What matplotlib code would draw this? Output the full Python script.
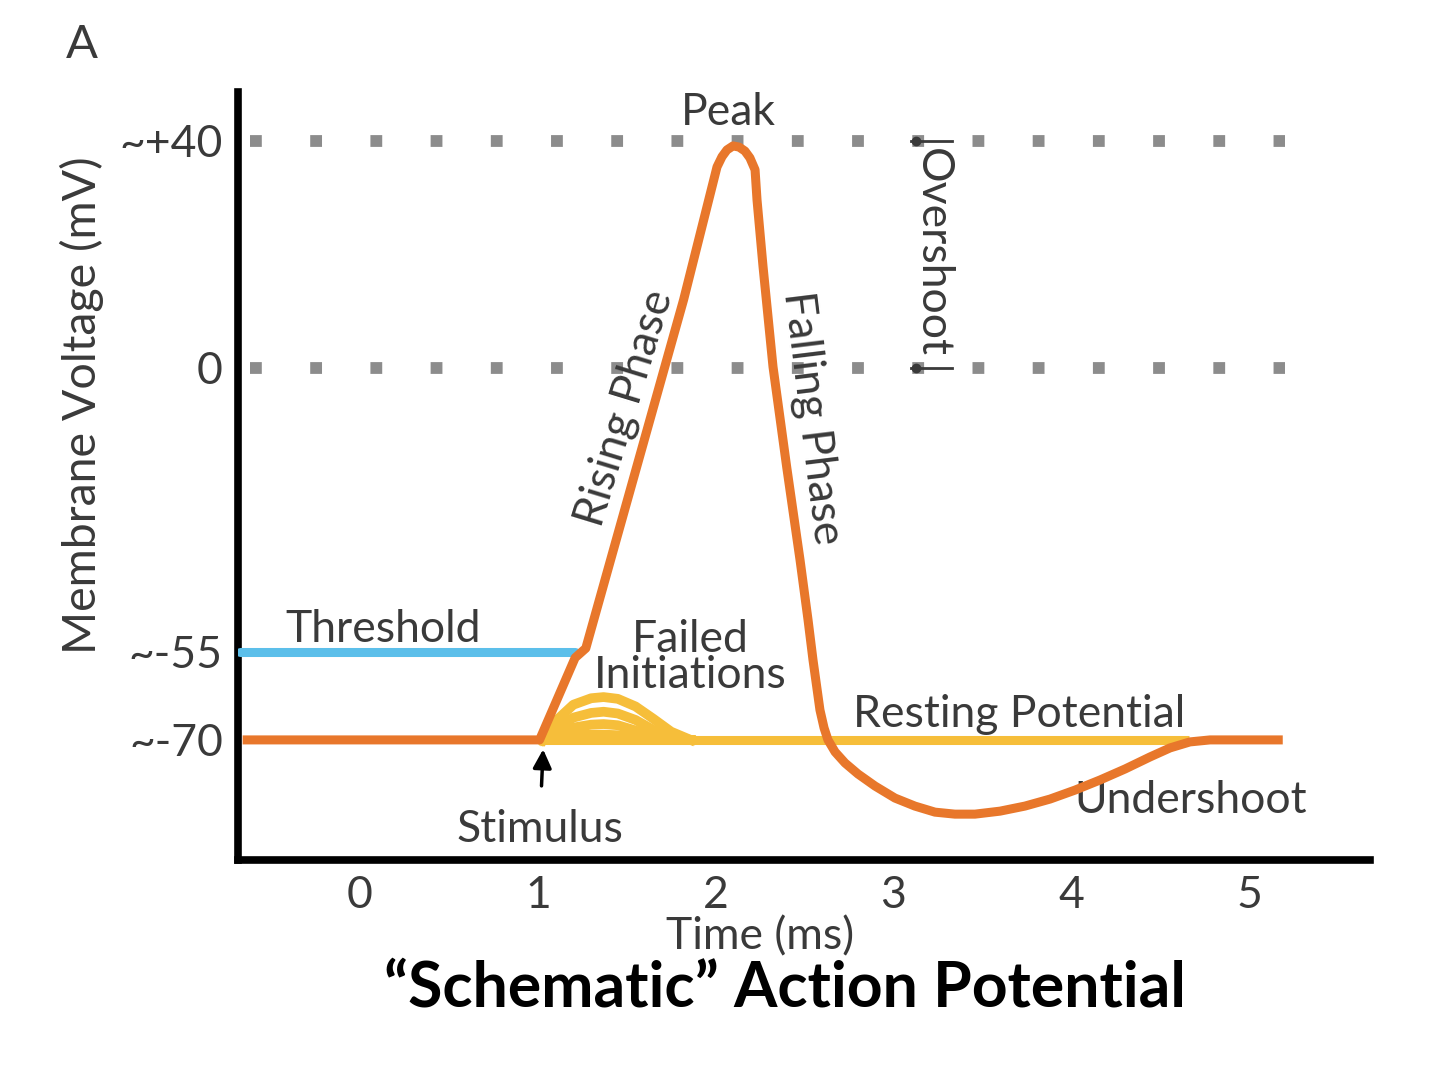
import numpy as np
import matplotlib.pyplot as plt

plt.rcParams['font.family'] = ['Lato', 'DejaVu Sans']

# 圖上的電壓軸是示意用的，刻度不是線性 -> 用 FuncScale 做分段線性
MV_KNOTS = [-100, -70, -55, 0, 60]
AXIS_KNOTS = [-96.6, -65.5, -50.0, 0, 60]


def fwd(v):
    return np.interp(v, MV_KNOTS, AXIS_KNOTS)


def inv(v):
    return np.interp(v, AXIS_KNOTS, MV_KNOTS)


# 動作電位 (ms, mV)
ap_time = [-0.66, 1.01, 1.21, 1.27, 1.82, 2.008, 2.036, 2.064, 2.098, 2.132,
           2.165, 2.193, 2.222, 2.233, 2.267, 2.323, 2.40, 2.475, 2.52, 2.548,
           2.587, 2.610, 2.632, 2.672, 2.728, 2.801, 2.897, 3.009, 3.121, 3.234,
           3.346, 3.459, 3.600, 3.740, 3.881, 4.022, 4.162, 4.303, 4.443, 4.556,
           4.668, 4.781, 5.19]
ap_mv = [-70, -70, -56.0, -54.3, 12.0, 35.4, 37.2, 38.4, 39.1, 38.9,
         38.2, 37.0, 34.9, 29.6, 17.8, 0.2, -19.2, -37.2, -48.8, -56.4,
         -64.9, -67.95, -70.0, -72.04, -73.92, -75.79, -77.84, -79.88, -81.24, -82.27,
         -82.61, -82.61, -82.10, -81.24, -80.05, -78.52, -76.81, -74.94, -72.90, -71.36,
         -70.34, -70.0, -70]

# 閾值
threshold_time = [-0.675, 1.21]
threshold_mv = [-55, -55]

# 靜止電位 (黃線)
rest_time = [1.0, 4.66]
rest_mv = [-70, -70]

# 失敗的起始 (四條小波)
bump_time = [1.03, 1.10, 1.20, 1.30, 1.37, 1.45, 1.55, 1.65, 1.75, 1.86]
bump1_mv = [-70, -66.8, -64.0, -62.9, -62.7, -63.0, -64.3, -66.4, -68.6, -70]
bump2_mv = [-70, -68.0, -66.2, -65.4, -65.2, -65.5, -66.6, -68.3, -69.6, -70]
bump3_mv = [-70, -69.0, -67.9, -67.4, -67.3, -67.5, -68.4, -69.5, -70, -70]
bump4_mv = [-70, -69.6, -69.2, -69.1, -69.1, -69.2, -69.6, -70, -70, -70]
bumps = [bump1_mv, bump2_mv, bump3_mv, bump4_mv]

# 參考虛線
ref_levels = [40, 0]
ref_span = [-0.62, 5.2]

# 刻度
x_ticks = [0, 1, 2, 3, 4, 5]
y_ticks = [-70, -55, 0, 40]
y_tick_labels = ['~-70', '~-55', '0', '~+40']

ORANGE = '#E8772B'
YELLOW = '#F6BE3A'
BLUE = '#5CBFEA'
GRAY_DOT = '#8C8C8C'
TEXT = '#3A3A3A'
FS = 32

fig = plt.figure(figsize=(14.4, 10.67), dpi=100)
ax = fig.add_axes([0.1653, 0.194, 0.786, 0.7198])
ax.set_yscale('function', functions=(fwd, inv))
ax.set_xlim(-0.686, 5.68)
ax.set_ylim(-90.4, 48.6)

# 灰色方點虛線
for lvl in ref_levels:
    ax.plot(ref_span, [lvl, lvl], color=GRAY_DOT, lw=8.5, dashes=(1, 4.1),
            dash_capstyle='butt', zorder=1)

# 黃色線
ax.plot(rest_time, rest_mv, color=YELLOW, lw=6.5, solid_capstyle='butt', zorder=2)
for b in bumps:
    ax.plot(bump_time, b, color=YELLOW, lw=7, solid_joinstyle='round', zorder=2)

# 閾值 + 動作電位
ax.plot(threshold_time, threshold_mv, color=BLUE, lw=6.5, solid_capstyle='round', zorder=3)
ax.plot(ap_time, ap_mv, color=ORANGE, lw=6.5, solid_joinstyle='round',
        solid_capstyle='butt', zorder=4)

# Overshoot 括號
for lvl in ref_levels:
    ax.plot([3.10, 3.33], [lvl, lvl], color=TEXT, lw=2, zorder=5)
    ax.plot([3.13], [lvl], 'o', color=TEXT, ms=6, zorder=5)
ax.text(3.22, 20.3, 'Overshoot', rotation=-90, ha='center', va='center',
        fontsize=FS, color=TEXT)

# 標註
ax.text(2.07, 44.9, 'Peak', ha='center', va='center', fontsize=FS, color=TEXT)
ax.text(1.49, -7.7, 'Rising Phase', rotation=73, rotation_mode='anchor',
        ha='center', va='center', fontsize=FS, color=TEXT)
ax.text(2.54, -9.7, 'Falling Phase', rotation=-83, rotation_mode='anchor',
        ha='center', va='center', fontsize=FS, color=TEXT)
ax.text(0.13, -50.7, 'Threshold', ha='center', va='center', fontsize=FS, color=TEXT)
ax.text(1.86, -55.9, 'Failed\nInitiations', ha='center', va='center',
        fontsize=FS, color=TEXT, linespacing=0.85)
ax.text(3.71, -65.7, 'Resting Potential', ha='center', va='center', fontsize=FS, color=TEXT)
ax.text(4.67, -80.3, 'Undershoot', ha='center', va='center', fontsize=FS, color=TEXT)
ax.annotate('Stimulus', xy=(1.03, -71.6), xytext=(1.01, -85.3),
            ha='center', va='center', fontsize=FS, color=TEXT,
            arrowprops=dict(arrowstyle='-|>', color='black', lw=2.5,
                            mutation_scale=28, shrinkA=15, shrinkB=0))

# 軸
for side in ['top', 'right']:
    ax.spines[side].set_visible(False)
for side in ['left', 'bottom']:
    ax.spines[side].set_linewidth(5.5)
    ax.spines[side].set_color('black')
ax.set_xticks(x_ticks)
ax.set_xticklabels([str(t) for t in x_ticks])
ax.set_yticks(y_ticks)
ax.set_yticklabels(y_tick_labels)
ax.yaxis.set_minor_locator(plt.NullLocator())
ax.tick_params(axis='both', length=0, labelsize=32, labelcolor=TEXT)
ax.tick_params(axis='x', pad=11)
ax.tick_params(axis='y', pad=11)

ax.set_ylabel('Membrane Voltage (mV)', fontsize=33.5, color=TEXT)
ax.yaxis.set_label_coords(-0.118, 0.592)
ax.set_xlabel('Time (ms)', fontsize=32, color=TEXT)
ax.xaxis.set_label_coords(0.461, -0.073)

fig.text(0.057, 0.958, 'A', fontsize=34, color=TEXT, ha='center', va='center')
fig.text(0.545, 0.074, '\u201cSchematic\u201d Action Potential', fontsize=45,
         fontweight='bold', color='black', ha='center', va='center')

fig.savefig('out.png', dpi=100)
